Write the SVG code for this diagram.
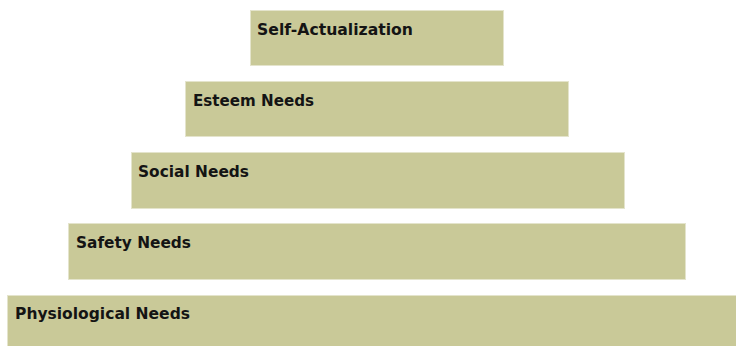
<svg xmlns="http://www.w3.org/2000/svg" width="736" height="346" viewBox="0 0 736 346">
<style>
.lvl{fill:#C9C998;stroke:#E4E4CC;stroke-width:1}
.lbl{font-family:"DejaVu Sans",Verdana,sans-serif;font-weight:bold;font-size:15px;fill:#141414}
</style>
<rect width="736" height="346" fill="#FFFFFF"/>
<g id="self-actualization">
<rect class="lvl" x="250.5" y="10.5" width="253" height="55"/>
<text class="lbl" x="257" y="35" textLength="156" lengthAdjust="spacingAndGlyphs">Self-Actualization</text>
</g>
<g id="esteem-needs">
<rect class="lvl" x="185.5" y="81.5" width="383" height="55"/>
<text class="lbl" x="193" y="106" textLength="121" lengthAdjust="spacingAndGlyphs">Esteem Needs</text>
</g>
<g id="social-needs">
<rect class="lvl" x="131.5" y="152.5" width="493" height="56"/>
<text class="lbl" x="138" y="177" textLength="111" lengthAdjust="spacingAndGlyphs">Social Needs</text>
</g>
<g id="safety-needs">
<rect class="lvl" x="68.5" y="223.5" width="617" height="56"/>
<text class="lbl" x="76" y="248" textLength="115" lengthAdjust="spacingAndGlyphs">Safety Needs</text>
</g>
<g id="physiological-needs">
<rect class="lvl" x="7.5" y="295.5" width="730" height="52"/>
<text class="lbl" x="15" y="319" textLength="175" lengthAdjust="spacingAndGlyphs">Physiological Needs</text>
</g>
<g id="connectors"></g>
</svg>
